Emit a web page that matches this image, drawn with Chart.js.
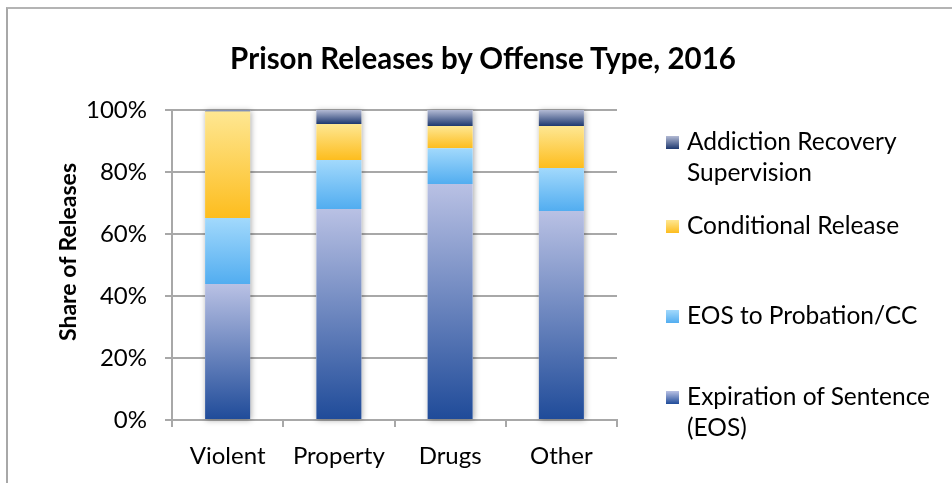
<!DOCTYPE html>
<html>
<head>
<meta charset="utf-8">
<script src="https://cdn.jsdelivr.net/npm/chart.js@4.4.1/dist/chart.umd.min.js"></script>
<style>
  html, body { margin: 0; padding: 0; background: #fff; }
  #wrap { position: relative; width: 952px; height: 483px; overflow: hidden; font-family: Lato, sans-serif; color: #000; }
  #frame { position: absolute; left: 6px; top: 7px; width: 1000px; height: 600px; border-top: 2px solid #b4b4b4; border-left: 2px solid #a8a8a8; }
  #chart { position: absolute; left: 0; top: 0; }
  #title { position: absolute; left: 483px; top: 40px; transform: translateX(-50%); font-weight: bold; font-size: 29.5px; line-height: 35px; white-space: nowrap; }
  #ytitle { position: absolute; left: 67px; top: 252px; transform: translate(-50%, -50%) rotate(-90deg); font-weight: bold; font-size: 23px; line-height: 26px; white-space: nowrap; }
  .item { position: absolute; left: 666px; font-size: 24.5px; line-height: 31px; white-space: pre-line; }
  .item .sw { position: absolute; left: 0; top: 11px; width: 13px; height: 13px; }
  .item .tx { margin-left: 21px; }
</style>
</head>
<body>
<div id="wrap">
  <div id="frame"></div>
  <canvas id="chart" width="952" height="483"></canvas>
  <div id="title"></div>
  <div id="ytitle"></div>
  <div id="legend"></div>
</div>
<script>
// data (percent of releases)
const chartTitle = 'Prison Releases by Offense Type, 2016';
const yAxisTitle = 'Share of Releases';
const categories = ['Violent', 'Property', 'Drugs', 'Other'];
const eosValues = [43.9, 68.1, 76.1, 67.4];
const probationValues = [21.3, 15.8, 11.6, 13.9];
const conditionalValues = [34.3, 11.6, 7.1, 13.5];
const recoveryValues = [0.5, 4.5, 5.2, 5.2];
const seriesNames = ['Expiration of Sentence\n(EOS)', 'EOS to Probation/CC', 'Conditional Release', 'Addiction Recovery\nSupervision'];
const yTickValues = [0, 20, 40, 60, 80, 100];

const seriesValues = [eosValues, probationValues, conditionalValues, recoveryValues];
// gradient stops (top, bottom) for each series
const seriesColors = [
  ['#b9c1e4', '#1f4b99'],
  ['#a2d9fc', '#52adf0'],
  ['#fee792', '#fdbd1e'],
  ['#b3bad4', '#1d386f'],
];
const legendTops = [380, 299, 209, 125];

function segmentFill(c) {
  const s = c.datasetIndex;
  if (c.type !== 'data' || !c.chart.chartArea) return seriesColors[s][1];
  const i = c.dataIndex;
  let base = 0;
  for (let k = 0; k < s; k++) base += seriesValues[k][i];
  const y = c.chart.scales.y;
  const top = y.getPixelForValue(base + seriesValues[s][i]);
  const bottom = y.getPixelForValue(base);
  const g = c.chart.ctx.createLinearGradient(0, top, 0, Math.max(bottom, top + 1));
  g.addColorStop(0, seriesColors[s][0]);
  g.addColorStop(1, seriesColors[s][1]);
  return g;
}

// soft shadow behind each stacked column
const barShadow = {
  id: 'barShadow',
  beforeDatasetsDraw(chart) {
    const ctx = chart.ctx;
    const first = chart.getDatasetMeta(0).data;
    const last = chart.getDatasetMeta(seriesValues.length - 1).data;
    ctx.save();
    ctx.shadowColor = 'rgba(0,0,0,0.35)';
    ctx.shadowBlur = 6;
    ctx.shadowOffsetX = 1;
    ctx.shadowOffsetY = 1;
    ctx.fillStyle = '#fff';
    first.forEach((bar, i) => {
      const top = last[i].y;
      ctx.fillRect(bar.x - bar.width / 2, top, bar.width, bar.base - top);
    });
    ctx.restore();
  }
};

new Chart(document.getElementById('chart'), {
  type: 'bar',
  data: {
    labels: categories,
    datasets: seriesValues.map((vals, s) => ({
      label: seriesNames[s],
      data: vals,
      backgroundColor: segmentFill,
      borderWidth: 0,
      barPercentage: 0.405,
      categoryPercentage: 1,
    })),
  },
  options: {
    responsive: false,
    animation: false,
    layout: { padding: { top: 110, right: 335, left: 0, bottom: 0 } },
    plugins: { legend: { display: false }, title: { display: false }, tooltip: { enabled: false } },
    scales: {
      x: {
        stacked: true,
        afterFit: (s) => { s.height = 63; },
        grid: { drawOnChartArea: false, drawTicks: true, tickLength: 7, color: '#a8a8a8', lineWidth: 2, offset: true },
        border: { color: '#a8a8a8', width: 2 },
        ticks: { color: '#000', padding: 15, font: { family: 'Lato', size: 24 } },
      },
      y: {
        stacked: true,
        min: 0,
        max: 100,
        afterFit: (s) => { s.width = 172; },
        afterBuildTicks: (s) => { s.ticks = yTickValues.map(v => ({ value: v })); },
        grid: { color: '#a8a8a8', lineWidth: 2, tickLength: 7 },
        border: { color: '#a8a8a8', width: 2 },
        ticks: { color: '#000', padding: 18, font: { family: 'Lato', size: 24 }, callback: (v) => v + '%' },
      },
    },
  },
  plugins: [barShadow],
});

document.getElementById('title').textContent = chartTitle;
document.getElementById('ytitle').textContent = yAxisTitle;
const legend = document.getElementById('legend');
for (let s = seriesNames.length - 1; s >= 0; s--) {
  const item = document.createElement('div');
  item.className = 'item';
  item.style.top = legendTops[s] + 'px';
  const sw = document.createElement('span');
  sw.className = 'sw';
  sw.style.background = 'linear-gradient(' + seriesColors[s][0] + ',' + seriesColors[s][1] + ')';
  const tx = document.createElement('div');
  tx.className = 'tx';
  tx.textContent = seriesNames[s];
  item.appendChild(sw);
  item.appendChild(tx);
  legend.appendChild(item);
}
</script>
</body>
</html>
